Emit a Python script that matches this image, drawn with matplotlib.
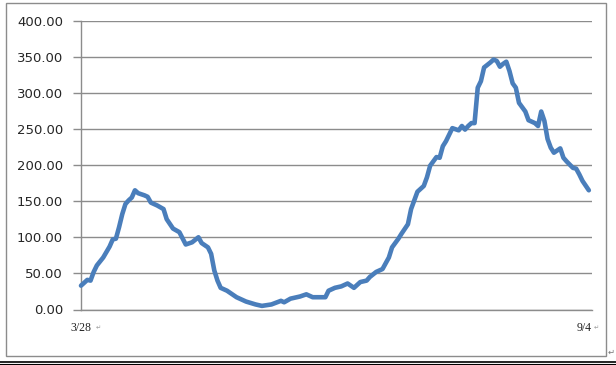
import matplotlib
matplotlib.use('Agg')
import matplotlib.pyplot as plt
from matplotlib.patches import Rectangle
from matplotlib.lines import Line2D
import matplotlib.transforms as mtransforms

# ---- data (day offset from 3/28, value) ----
days = [0, 2, 3, 4, 5, 7, 9, 10, 11, 12, 13, 14, 15, 16, 17, 18, 20, 21, 22, 24,
        26, 27, 29, 31, 33, 35, 37, 38, 40, 41, 42, 43, 44, 46, 47, 49, 52, 55, 57, 60,
        63, 64, 66, 68, 69, 71, 73, 75, 77, 78, 80, 82, 84, 86, 88, 90, 91, 93, 95, 97,
        98, 100, 101, 103, 104, 105, 106, 108, 109, 110, 112, 113, 114, 115, 116, 117, 119, 120, 121, 122,
        123, 124, 125, 126, 127, 129, 130, 131, 132, 133, 134, 135, 136, 137, 138, 140, 141, 143, 144, 145,
        146, 147, 148, 149, 151, 152, 153, 155, 156, 157, 158, 160]
values = [33, 41, 40, 52, 61, 72, 87, 97, 98, 114, 132, 146, 151, 155, 165, 161, 158, 156, 148, 144,
          139, 125, 112, 107, 90, 93, 100, 92, 86, 77, 54, 40, 30, 26, 23, 17, 11, 7, 5, 7,
          12, 10, 15, 17, 18, 21, 17, 17, 17, 26, 30, 32, 36, 30, 38, 40, 45, 52, 56, 72,
          86, 98, 105, 118, 139, 151, 163, 171, 183, 199, 211, 210, 226, 233, 242, 251, 248, 254, 249, 254,
          258, 258, 307, 316, 335, 342, 346, 344, 336, 340, 343, 330, 313, 307, 286, 274, 262, 258, 254, 274,
          261, 236, 224, 217, 223, 210, 205, 196, 195, 187, 178, 165]

x_tick_days = [0, 160]
x_tick_labels = ['3/28', '9/4']
y_ticks = [0, 50, 100, 150, 200, 250, 300, 350, 400]

W, H = 616, 365
fig = plt.figure(figsize=(W / 100, H / 100), dpi=100)
fig.patch.set_facecolor('white')


def fy(py):
    return 1 - py / H


ax = fig.add_axes([81 / W, fy(309.5), (592 - 81) / W, (309.5 - 20.5) / H])
ax.plot(days, values, color='#4A7EBB', lw=3.3, solid_joinstyle='round',
        solid_capstyle='round', clip_on=False, zorder=3)
ax.set_xlim(0, 161)
ax.set_ylim(0, 400)

ax.set_yticks(y_ticks)
ax.set_yticklabels([f'{v:.2f}' for v in y_ticks])
ax.yaxis.grid(True, color='#8c8c8c', lw=1)
ax.set_axisbelow(True)

for s in ['top', 'right']:
    ax.spines[s].set_visible(False)
for s in ['left', 'bottom']:
    ax.spines[s].set_color('#8c8c8c')
    ax.spines[s].set_linewidth(1)

ax.tick_params(axis='y', length=6, color='#8c8c8c', width=1, pad=7,
               labelsize=9.5, labelcolor='#262626')
ax.set_xticks(x_tick_days)
ax.set_xticklabels(x_tick_labels, fontfamily='Liberation Serif', fontsize=8.5,
                   color='#222222')
ax.tick_params(axis='x', length=0, pad=9)
# the last label sits to the left of its tick, as in the reference
last = ax.get_xticklabels()[-1]
last.set_ha('right')
last.set_transform(last.get_transform() +
                   mtransforms.ScaledTranslation(3 / 100, 0, fig.dpi_scale_trans))

# frame around the chart
fig.patches.append(Rectangle((5.5 / W, fy(356)), (606 - 5.5) / W, (356 - 2.5) / H,
                             transform=fig.transFigure, fill=False,
                             ec='#8c8c8c', lw=1))
# document lines below
fig.lines.append(Line2D([0, 1], [fy(361.5)] * 2, color='black', lw=1.2,
                        transform=fig.transFigure))
fig.lines.append(Line2D([0, 1], [fy(364)] * 2, color='black', lw=0.8,
                        transform=fig.transFigure))

# small paragraph marks
fig.text(96 / W, fy(328), '\u21b5', fontsize=4.5, color='#999999', va='center')
fig.text(594 / W, fy(328), '\u21b5', fontsize=4.5, color='#999999', va='center')
fig.text(608 / W, fy(352), '\u21b5', fontsize=6, color='#777777', va='center')

fig.savefig('out.png', dpi=100)
